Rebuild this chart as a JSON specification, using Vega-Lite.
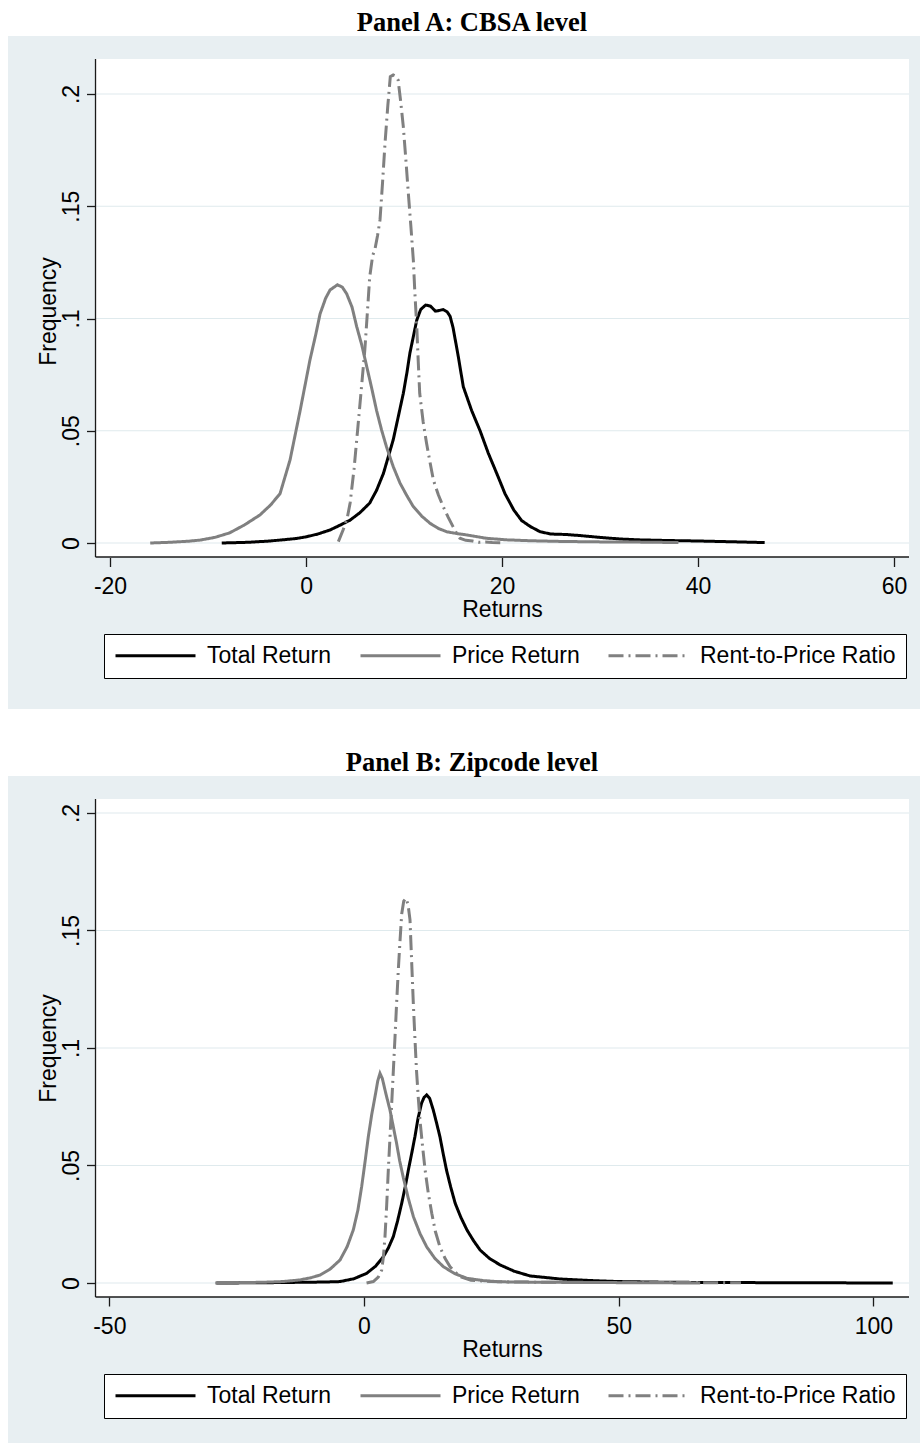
{
  "$schema": "https://vega.github.io/schema/vega-lite/v6.json",
  "background": "#ffffff",
  "padding": {"left": 8, "top": 9, "right": 0, "bottom": 0},
  "config": {
    "view": {"stroke": null, "fill": "#e8eff2"},
    "font": "Liberation Sans"
  },
  "datasets": {
    "one": [{}],
    "grid": [{"f": 0}, {"f": 0.05}, {"f": 0.1}, {"f": 0.15}, {"f": 0.2}],
    "a": [
      {"series": "Total Return", "r": -8.6, "f": 0.0},
      {"series": "Total Return", "r": -6, "f": 0.0003},
      {"series": "Total Return", "r": -4, "f": 0.0008},
      {"series": "Total Return", "r": -2.65, "f": 0.0013},
      {"series": "Total Return", "r": -1, "f": 0.002},
      {"series": "Total Return", "r": 0.07, "f": 0.0028},
      {"series": "Total Return", "r": 1.2, "f": 0.004},
      {"series": "Total Return", "r": 2.45, "f": 0.0058},
      {"series": "Total Return", "r": 3.5, "f": 0.008},
      {"series": "Total Return", "r": 4.5, "f": 0.0102},
      {"series": "Total Return", "r": 5.5, "f": 0.0135},
      {"series": "Total Return", "r": 6.5, "f": 0.0178},
      {"series": "Total Return", "r": 7.2, "f": 0.0235},
      {"series": "Total Return", "r": 7.9, "f": 0.031},
      {"series": "Total Return", "r": 8.4, "f": 0.0385},
      {"series": "Total Return", "r": 8.9, "f": 0.046},
      {"series": "Total Return", "r": 9.4, "f": 0.056},
      {"series": "Total Return", "r": 9.93, "f": 0.0667},
      {"series": "Total Return", "r": 10.3, "f": 0.076},
      {"series": "Total Return", "r": 10.6, "f": 0.0846},
      {"series": "Total Return", "r": 11.0, "f": 0.093},
      {"series": "Total Return", "r": 11.3, "f": 0.0993},
      {"series": "Total Return", "r": 11.7, "f": 0.104},
      {"series": "Total Return", "r": 12.2, "f": 0.106},
      {"series": "Total Return", "r": 12.7, "f": 0.1055},
      {"series": "Total Return", "r": 13.2, "f": 0.1033},
      {"series": "Total Return", "r": 13.5, "f": 0.1035},
      {"series": "Total Return", "r": 14.0, "f": 0.104},
      {"series": "Total Return", "r": 14.4, "f": 0.103},
      {"series": "Total Return", "r": 14.7, "f": 0.101},
      {"series": "Total Return", "r": 15.0, "f": 0.096},
      {"series": "Total Return", "r": 15.5, "f": 0.084},
      {"series": "Total Return", "r": 16.05, "f": 0.0696},
      {"series": "Total Return", "r": 16.9, "f": 0.059},
      {"series": "Total Return", "r": 17.76, "f": 0.05},
      {"series": "Total Return", "r": 18.6, "f": 0.04},
      {"series": "Total Return", "r": 19.46, "f": 0.031},
      {"series": "Total Return", "r": 20.3, "f": 0.022},
      {"series": "Total Return", "r": 21.2, "f": 0.0147},
      {"series": "Total Return", "r": 22.0, "f": 0.01},
      {"series": "Total Return", "r": 22.9, "f": 0.0073},
      {"series": "Total Return", "r": 23.9, "f": 0.005},
      {"series": "Total Return", "r": 25, "f": 0.004},
      {"series": "Total Return", "r": 26.5, "f": 0.0038},
      {"series": "Total Return", "r": 28, "f": 0.0033},
      {"series": "Total Return", "r": 30, "f": 0.0025},
      {"series": "Total Return", "r": 32, "f": 0.0018},
      {"series": "Total Return", "r": 34, "f": 0.0014},
      {"series": "Total Return", "r": 37, "f": 0.0011},
      {"series": "Total Return", "r": 40, "f": 0.0009},
      {"series": "Total Return", "r": 43, "f": 0.0006},
      {"series": "Total Return", "r": 46.8, "f": 0.0002},
      {"series": "Price Return", "r": -15.9, "f": 0.0},
      {"series": "Price Return", "r": -14, "f": 0.0003},
      {"series": "Price Return", "r": -12, "f": 0.0008},
      {"series": "Price Return", "r": -10.8, "f": 0.0013},
      {"series": "Price Return", "r": -9.3, "f": 0.0025},
      {"series": "Price Return", "r": -7.8, "f": 0.0045},
      {"series": "Price Return", "r": -6.3, "f": 0.008},
      {"series": "Price Return", "r": -4.7, "f": 0.0125},
      {"series": "Price Return", "r": -3.6, "f": 0.017},
      {"series": "Price Return", "r": -2.65, "f": 0.022},
      {"series": "Price Return", "r": -1.63, "f": 0.037},
      {"series": "Price Return", "r": -0.6, "f": 0.059},
      {"series": "Price Return", "r": 0.4, "f": 0.0815},
      {"series": "Price Return", "r": 1.0, "f": 0.093},
      {"series": "Price Return", "r": 1.43, "f": 0.102},
      {"series": "Price Return", "r": 2.0, "f": 0.109},
      {"series": "Price Return", "r": 2.45, "f": 0.1127},
      {"series": "Price Return", "r": 3.2, "f": 0.115},
      {"series": "Price Return", "r": 3.7, "f": 0.114},
      {"series": "Price Return", "r": 4.15, "f": 0.111},
      {"series": "Price Return", "r": 4.7, "f": 0.105},
      {"series": "Price Return", "r": 5.17, "f": 0.0964},
      {"series": "Price Return", "r": 5.7, "f": 0.088},
      {"series": "Price Return", "r": 6.2, "f": 0.0785},
      {"series": "Price Return", "r": 6.7, "f": 0.069},
      {"series": "Price Return", "r": 7.2, "f": 0.059},
      {"series": "Price Return", "r": 7.7, "f": 0.0505},
      {"series": "Price Return", "r": 8.2, "f": 0.043},
      {"series": "Price Return", "r": 8.9, "f": 0.034},
      {"series": "Price Return", "r": 9.6, "f": 0.0266},
      {"series": "Price Return", "r": 10.3, "f": 0.021},
      {"series": "Price Return", "r": 10.95, "f": 0.0162},
      {"series": "Price Return", "r": 11.8, "f": 0.012},
      {"series": "Price Return", "r": 12.65, "f": 0.0088},
      {"series": "Price Return", "r": 13.5, "f": 0.0065},
      {"series": "Price Return", "r": 14.36, "f": 0.005},
      {"series": "Price Return", "r": 15.4, "f": 0.0042},
      {"series": "Price Return", "r": 16.4, "f": 0.0036},
      {"series": "Price Return", "r": 18.4, "f": 0.0021},
      {"series": "Price Return", "r": 20.5, "f": 0.0014},
      {"series": "Price Return", "r": 23, "f": 0.001},
      {"series": "Price Return", "r": 26, "f": 0.0007},
      {"series": "Price Return", "r": 30, "f": 0.0005},
      {"series": "Price Return", "r": 34, "f": 0.0004},
      {"series": "Price Return", "r": 38, "f": 0.0002},
      {"series": "Rent-to-Price Ratio", "r": 3.3, "f": 0.0006},
      {"series": "Rent-to-Price Ratio", "r": 3.8, "f": 0.006},
      {"series": "Rent-to-Price Ratio", "r": 4.2, "f": 0.011},
      {"series": "Rent-to-Price Ratio", "r": 4.5, "f": 0.0178},
      {"series": "Rent-to-Price Ratio", "r": 4.9, "f": 0.033},
      {"series": "Rent-to-Price Ratio", "r": 5.3, "f": 0.052},
      {"series": "Rent-to-Price Ratio", "r": 5.65, "f": 0.069},
      {"series": "Rent-to-Price Ratio", "r": 6.0, "f": 0.086},
      {"series": "Rent-to-Price Ratio", "r": 6.25, "f": 0.102},
      {"series": "Rent-to-Price Ratio", "r": 6.5, "f": 0.1186},
      {"series": "Rent-to-Price Ratio", "r": 6.8, "f": 0.128},
      {"series": "Rent-to-Price Ratio", "r": 7.04, "f": 0.131},
      {"series": "Rent-to-Price Ratio", "r": 7.3, "f": 0.137},
      {"series": "Rent-to-Price Ratio", "r": 7.55, "f": 0.1439},
      {"series": "Rent-to-Price Ratio", "r": 7.8, "f": 0.16},
      {"series": "Rent-to-Price Ratio", "r": 8.06, "f": 0.178},
      {"series": "Rent-to-Price Ratio", "r": 8.35, "f": 0.195},
      {"series": "Rent-to-Price Ratio", "r": 8.6, "f": 0.2077},
      {"series": "Rent-to-Price Ratio", "r": 8.9, "f": 0.2085},
      {"series": "Rent-to-Price Ratio", "r": 9.15, "f": 0.208},
      {"series": "Rent-to-Price Ratio", "r": 9.4, "f": 0.2062},
      {"series": "Rent-to-Price Ratio", "r": 9.65, "f": 0.197},
      {"series": "Rent-to-Price Ratio", "r": 9.93, "f": 0.1854},
      {"series": "Rent-to-Price Ratio", "r": 10.2, "f": 0.17},
      {"series": "Rent-to-Price Ratio", "r": 10.44, "f": 0.1558},
      {"series": "Rent-to-Price Ratio", "r": 10.7, "f": 0.141},
      {"series": "Rent-to-Price Ratio", "r": 10.95, "f": 0.126},
      {"series": "Rent-to-Price Ratio", "r": 11.1, "f": 0.112},
      {"series": "Rent-to-Price Ratio", "r": 11.3, "f": 0.0964},
      {"series": "Rent-to-Price Ratio", "r": 11.45, "f": 0.081},
      {"series": "Rent-to-Price Ratio", "r": 11.6, "f": 0.0667},
      {"series": "Rent-to-Price Ratio", "r": 11.95, "f": 0.054},
      {"series": "Rent-to-Price Ratio", "r": 12.3, "f": 0.0444},
      {"series": "Rent-to-Price Ratio", "r": 12.65, "f": 0.036},
      {"series": "Rent-to-Price Ratio", "r": 13.0, "f": 0.028},
      {"series": "Rent-to-Price Ratio", "r": 13.5, "f": 0.0215},
      {"series": "Rent-to-Price Ratio", "r": 14.0, "f": 0.0162},
      {"series": "Rent-to-Price Ratio", "r": 14.5, "f": 0.0115},
      {"series": "Rent-to-Price Ratio", "r": 15.0, "f": 0.0073},
      {"series": "Rent-to-Price Ratio", "r": 15.4, "f": 0.004},
      {"series": "Rent-to-Price Ratio", "r": 15.7, "f": 0.0021},
      {"series": "Rent-to-Price Ratio", "r": 16.3, "f": 0.0012},
      {"series": "Rent-to-Price Ratio", "r": 17, "f": 0.0009},
      {"series": "Rent-to-Price Ratio", "r": 17.6, "f": 0.0003},
      {"series": "Rent-to-Price Ratio", "r": 18.3, "f": 0.0005},
      {"series": "Rent-to-Price Ratio", "r": 19, "f": 0.0002},
      {"series": "Rent-to-Price Ratio", "r": 20.2, "f": 0.0001}
    ],
    "b": [
      {"series": "Total Return", "r": -29, "f": 0.0},
      {"series": "Total Return", "r": -20, "f": 0.0001},
      {"series": "Total Return", "r": -12, "f": 0.0003},
      {"series": "Total Return", "r": -8, "f": 0.0004},
      {"series": "Total Return", "r": -4.7, "f": 0.0006},
      {"series": "Total Return", "r": -2, "f": 0.0018},
      {"series": "Total Return", "r": 0.52, "f": 0.0041},
      {"series": "Total Return", "r": 2.3, "f": 0.0072},
      {"series": "Total Return", "r": 3.8, "f": 0.0112},
      {"series": "Total Return", "r": 4.8, "f": 0.015},
      {"series": "Total Return", "r": 5.75, "f": 0.0197},
      {"series": "Total Return", "r": 6.6, "f": 0.0265},
      {"series": "Total Return", "r": 7.4, "f": 0.0339},
      {"series": "Total Return", "r": 8.1, "f": 0.041},
      {"series": "Total Return", "r": 8.7, "f": 0.048},
      {"series": "Total Return", "r": 9.35, "f": 0.055},
      {"series": "Total Return", "r": 10.0, "f": 0.0623},
      {"series": "Total Return", "r": 10.6, "f": 0.07},
      {"series": "Total Return", "r": 11.3, "f": 0.0765},
      {"series": "Total Return", "r": 11.8, "f": 0.079},
      {"series": "Total Return", "r": 12.3, "f": 0.08},
      {"series": "Total Return", "r": 12.9, "f": 0.0785},
      {"series": "Total Return", "r": 13.6, "f": 0.0736},
      {"series": "Total Return", "r": 14.2, "f": 0.0685},
      {"series": "Total Return", "r": 14.9, "f": 0.0623},
      {"series": "Total Return", "r": 15.5, "f": 0.0555},
      {"series": "Total Return", "r": 16.2, "f": 0.048},
      {"series": "Total Return", "r": 17.0, "f": 0.041},
      {"series": "Total Return", "r": 17.9, "f": 0.0339},
      {"series": "Total Return", "r": 19.0, "f": 0.028},
      {"series": "Total Return", "r": 20.2, "f": 0.0226},
      {"series": "Total Return", "r": 21.5, "f": 0.018},
      {"series": "Total Return", "r": 22.8, "f": 0.014},
      {"series": "Total Return", "r": 24.6, "f": 0.0105},
      {"series": "Total Return", "r": 26.7, "f": 0.0077},
      {"series": "Total Return", "r": 29.5, "f": 0.005},
      {"series": "Total Return", "r": 32.6, "f": 0.003},
      {"series": "Total Return", "r": 38.5, "f": 0.0017},
      {"series": "Total Return", "r": 45, "f": 0.001},
      {"series": "Total Return", "r": 50, "f": 0.0006},
      {"series": "Total Return", "r": 60, "f": 0.0003},
      {"series": "Total Return", "r": 70, "f": 0.0002},
      {"series": "Total Return", "r": 85, "f": 0.0001},
      {"series": "Total Return", "r": 103.8, "f": 0.0},
      {"series": "Price Return", "r": -29.2, "f": 0.0},
      {"series": "Price Return", "r": -20, "f": 0.0003},
      {"series": "Price Return", "r": -16, "f": 0.0006},
      {"series": "Price Return", "r": -12.6, "f": 0.0013},
      {"series": "Price Return", "r": -10.5, "f": 0.0022},
      {"series": "Price Return", "r": -8.6, "f": 0.0034},
      {"series": "Price Return", "r": -6.6, "f": 0.006},
      {"series": "Price Return", "r": -4.7, "f": 0.0098},
      {"series": "Price Return", "r": -3.3, "f": 0.0155},
      {"series": "Price Return", "r": -2.1, "f": 0.0226},
      {"series": "Price Return", "r": -1.2, "f": 0.031},
      {"series": "Price Return", "r": -0.46, "f": 0.041},
      {"series": "Price Return", "r": 0.2, "f": 0.0515},
      {"series": "Price Return", "r": 0.85, "f": 0.0623},
      {"series": "Price Return", "r": 1.5, "f": 0.0715},
      {"series": "Price Return", "r": 2.16, "f": 0.0793},
      {"series": "Price Return", "r": 2.7, "f": 0.086},
      {"series": "Price Return", "r": 3.14, "f": 0.0892},
      {"series": "Price Return", "r": 3.6, "f": 0.087},
      {"series": "Price Return", "r": 4.3, "f": 0.0805},
      {"series": "Price Return", "r": 5.1, "f": 0.0736},
      {"series": "Price Return", "r": 5.75, "f": 0.0665},
      {"series": "Price Return", "r": 6.4, "f": 0.0594},
      {"series": "Price Return", "r": 7.0, "f": 0.052},
      {"series": "Price Return", "r": 7.7, "f": 0.045},
      {"series": "Price Return", "r": 8.7, "f": 0.036},
      {"series": "Price Return", "r": 9.7, "f": 0.0282},
      {"series": "Price Return", "r": 11.0, "f": 0.021},
      {"series": "Price Return", "r": 12.3, "f": 0.0154},
      {"series": "Price Return", "r": 13.9, "f": 0.0105},
      {"series": "Price Return", "r": 15.6, "f": 0.0069},
      {"series": "Price Return", "r": 17.8, "f": 0.004},
      {"series": "Price Return", "r": 20.2, "f": 0.002},
      {"series": "Price Return", "r": 23.5, "f": 0.001},
      {"series": "Price Return", "r": 26.7, "f": 0.0005},
      {"series": "Price Return", "r": 35, "f": 0.0003},
      {"series": "Price Return", "r": 45, "f": 0.0002},
      {"series": "Price Return", "r": 55, "f": 0.0001},
      {"series": "Price Return", "r": 66, "f": 0.0},
      {"series": "Rent-to-Price Ratio", "r": 0.5, "f": 0.0},
      {"series": "Rent-to-Price Ratio", "r": 1.83, "f": 0.0006},
      {"series": "Rent-to-Price Ratio", "r": 2.8, "f": 0.0025},
      {"series": "Rent-to-Price Ratio", "r": 3.47, "f": 0.0055},
      {"series": "Rent-to-Price Ratio", "r": 3.8, "f": 0.011},
      {"series": "Rent-to-Price Ratio", "r": 4.12, "f": 0.0197},
      {"series": "Rent-to-Price Ratio", "r": 4.45, "f": 0.033},
      {"series": "Rent-to-Price Ratio", "r": 4.77, "f": 0.048},
      {"series": "Rent-to-Price Ratio", "r": 5.1, "f": 0.062},
      {"series": "Rent-to-Price Ratio", "r": 5.44, "f": 0.0765},
      {"series": "Rent-to-Price Ratio", "r": 5.75, "f": 0.09},
      {"series": "Rent-to-Price Ratio", "r": 6.09, "f": 0.1048},
      {"series": "Rent-to-Price Ratio", "r": 6.4, "f": 0.119},
      {"series": "Rent-to-Price Ratio", "r": 6.73, "f": 0.133},
      {"series": "Rent-to-Price Ratio", "r": 7.05, "f": 0.145},
      {"series": "Rent-to-Price Ratio", "r": 7.4, "f": 0.157},
      {"series": "Rent-to-Price Ratio", "r": 7.8, "f": 0.1625},
      {"series": "Rent-to-Price Ratio", "r": 8.24, "f": 0.1637},
      {"series": "Rent-to-Price Ratio", "r": 8.65, "f": 0.161},
      {"series": "Rent-to-Price Ratio", "r": 9.03, "f": 0.1545},
      {"series": "Rent-to-Price Ratio", "r": 9.35, "f": 0.137},
      {"series": "Rent-to-Price Ratio", "r": 9.68, "f": 0.119},
      {"series": "Rent-to-Price Ratio", "r": 10.0, "f": 0.104},
      {"series": "Rent-to-Price Ratio", "r": 10.3, "f": 0.0906},
      {"series": "Rent-to-Price Ratio", "r": 10.65, "f": 0.079},
      {"series": "Rent-to-Price Ratio", "r": 11.0, "f": 0.069},
      {"series": "Rent-to-Price Ratio", "r": 11.5, "f": 0.058},
      {"series": "Rent-to-Price Ratio", "r": 12.0, "f": 0.048},
      {"series": "Rent-to-Price Ratio", "r": 12.6, "f": 0.0385},
      {"series": "Rent-to-Price Ratio", "r": 13.3, "f": 0.0297},
      {"series": "Rent-to-Price Ratio", "r": 14.0, "f": 0.022},
      {"series": "Rent-to-Price Ratio", "r": 14.9, "f": 0.0154},
      {"series": "Rent-to-Price Ratio", "r": 15.9, "f": 0.0105},
      {"series": "Rent-to-Price Ratio", "r": 16.9, "f": 0.0069},
      {"series": "Rent-to-Price Ratio", "r": 18.8, "f": 0.0027},
      {"series": "Rent-to-Price Ratio", "r": 21, "f": 0.0012},
      {"series": "Rent-to-Price Ratio", "r": 25, "f": 0.0006},
      {"series": "Rent-to-Price Ratio", "r": 30, "f": 0.0004},
      {"series": "Rent-to-Price Ratio", "r": 40, "f": 0.0003},
      {"series": "Rent-to-Price Ratio", "r": 50, "f": 0.0002},
      {"series": "Rent-to-Price Ratio", "r": 60, "f": 0.0002},
      {"series": "Rent-to-Price Ratio", "r": 74, "f": 0.0001}
    ]
  },
  "resolve": {"scale": {"color": "independent", "strokeDash": "independent"}},
  "spacing": 40,
  "vconcat": [
    {
      "width": 912,
      "height": 673,
      "title": {"text": "Panel A: CBSA level", "font": "Liberation Serif", "fontSize": 26.5, "fontWeight": "bold", "color": "#000000", "anchor": "middle", "frame": "group", "dx": 8, "baseline": "alphabetic", "offset": -21},
      "layer": [
        {
          "data": {"name": "one"},
          "mark": {"type": "rect", "fill": "#ffffff"},
          "encoding": {
            "x": {"datum": -21.48, "type": "quantitative", "scale": {"domain": [-30.41, 62.65], "nice": false, "zero": false}},
            "x2": {"datum": 61.53},
            "y": {"datum": -0.00624, "type": "quantitative", "scale": {"domain": [-0.07394, 0.22584], "nice": false, "zero": false}},
            "y2": {"datum": 0.21559}
          }
        },
        {
          "data": {"name": "grid"},
          "mark": {"type": "rule", "stroke": "#dfeaed", "strokeWidth": 1.2},
          "encoding": {
            "y": {"field": "f", "type": "quantitative", "scale": {"domain": [-0.07394, 0.22584], "nice": false, "zero": false}},
            "x": {"datum": -21.48, "type": "quantitative", "scale": {"domain": [-30.41, 62.65], "nice": false, "zero": false}},
            "x2": {"datum": 61.53}
          }
        },
        {
          "data": {"name": "a"},
          "mark": {"type": "line", "strokeWidth": 3},
          "encoding": {
            "x": {
              "field": "r", "type": "quantitative",
              "scale": {"domain": [-30.41, 62.65], "nice": false, "zero": false},
              "axis": {"values": [-20, 0, 20, 40, 60], "labelExpr": "datum.value + ''", "offset": -151.5, "zindex": 1, "domain": false, "grid": false, "tickSize": 9, "tickColor": "#1a1a1a", "tickWidth": 1.3, "labelFont": "Liberation Sans", "labelFontSize": 23, "labelColor": "#000000", "labelBaseline": "alphabetic", "labelPadding": 27, "labelFlush": false, "labelOverlap": false, "title": "Returns", "titleFont": "Liberation Sans", "titleFontSize": 23, "titleFontWeight": "normal", "titleColor": "#000000", "titleX": 494, "titleY": 59, "titleAlign": "center", "titleBaseline": "alphabetic"}
            },
            "y": {
              "field": "f", "type": "quantitative",
              "scale": {"domain": [-0.07394, 0.22584], "nice": false, "zero": false},
              "axis": {"values": [0, 0.05, 0.1, 0.15, 0.2], "labelExpr": "datum.value == 0 ? '0' : replace(datum.value + '', '0.', '.')", "offset": -87.5, "zindex": 1, "domain": false, "grid": false, "tickSize": 9, "tickColor": "#1a1a1a", "tickWidth": 1.3, "labelFont": "Liberation Sans", "labelFontSize": 23, "labelColor": "#000000", "labelAngle": -90, "labelAlign": "center", "labelBaseline": "alphabetic", "labelPadding": 8.5, "labelFlush": false, "labelOverlap": false, "title": "Frequency", "titleFont": "Liberation Sans", "titleFontSize": 23, "titleFontWeight": "normal", "titleColor": "#000000", "titleAngle": -90, "titleX": -40.5, "titleY": 275, "titleAlign": "center", "titleBaseline": "alphabetic"}
            },
            "color": {
              "field": "series", "type": "nominal",
              "scale": {"domain": ["Total Return", "Price Return", "Rent-to-Price Ratio"], "range": ["#000000", "#808080", "#808080"]},
              "legend": {"orient": "none", "legendX": 96, "legendY": 598, "direction": "horizontal", "title": null, "symbolType": "M-4,0H4", "symbolSize": 400, "symbolStrokeWidth": 3, "symbolOffset": 30, "labelOffset": 40, "labelFont": "Liberation Sans", "labelFontSize": 23, "labelColor": "#000000", "labelLimit": 400, "columnPadding": 22, "padding": 10, "strokeColor": "#000000", "fillColor": "#ffffff"}
            },
            "strokeDash": {
              "field": "series", "type": "nominal",
              "scale": {"domain": ["Total Return", "Price Return", "Rent-to-Price Ratio"], "range": [[1, 0], [1, 0], [15, 5, 2, 5]]},
              "legend": {"orient": "none", "legendX": 96, "legendY": 598, "direction": "horizontal", "title": null, "symbolType": "M-4,0H4", "symbolSize": 400, "symbolStrokeWidth": 3, "symbolOffset": 30, "labelOffset": 40, "labelFont": "Liberation Sans", "labelFontSize": 23, "labelColor": "#000000", "labelLimit": 400, "columnPadding": 22, "padding": 10, "strokeColor": "#000000", "fillColor": "#ffffff"}
            }
          }
        },
        {
          "data": {"name": "one"},
          "mark": {"type": "rule", "stroke": "#1a1a1a", "strokeWidth": 1.3},
          "encoding": {
            "x": {"datum": -21.48, "type": "quantitative", "scale": {"domain": [-30.41, 62.65], "nice": false, "zero": false}},
            "y": {"datum": -0.00624, "type": "quantitative", "scale": {"domain": [-0.07394, 0.22584], "nice": false, "zero": false}},
            "y2": {"datum": 0.21559}
          }
        },
        {
          "data": {"name": "one"},
          "mark": {"type": "rule", "stroke": "#1a1a1a", "strokeWidth": 1.3},
          "encoding": {
            "x": {"datum": -21.48, "type": "quantitative", "scale": {"domain": [-30.41, 62.65], "nice": false, "zero": false}},
            "x2": {"datum": 61.53},
            "y": {"datum": -0.00624, "type": "quantitative", "scale": {"domain": [-0.07394, 0.22584], "nice": false, "zero": false}}
          }
        }
      ]
    },
    {
      "width": 912,
      "height": 667,
      "title": {"text": "Panel B: Zipcode level", "font": "Liberation Serif", "fontSize": 26.5, "fontWeight": "bold", "color": "#000000", "anchor": "middle", "frame": "group", "dx": 8, "baseline": "alphabetic", "offset": -21},
      "layer": [
        {
          "data": {"name": "one"},
          "mark": {"type": "rect", "fill": "#ffffff"},
          "encoding": {
            "x": {"datum": -52.71, "type": "quantitative", "scale": {"domain": [-69.89, 109.15], "nice": false, "zero": false}},
            "x2": {"datum": 106.99},
            "y": {"datum": -0.00596, "type": "quantitative", "scale": {"domain": [-0.06809, 0.21574], "nice": false, "zero": false}},
            "y2": {"datum": 0.20596}
          }
        },
        {
          "data": {"name": "grid"},
          "mark": {"type": "rule", "stroke": "#dfeaed", "strokeWidth": 1.2},
          "encoding": {
            "y": {"field": "f", "type": "quantitative", "scale": {"domain": [-0.06809, 0.21574], "nice": false, "zero": false}},
            "x": {"datum": -52.71, "type": "quantitative", "scale": {"domain": [-69.89, 109.15], "nice": false, "zero": false}},
            "x2": {"datum": 106.99}
          }
        },
        {
          "data": {"name": "b"},
          "mark": {"type": "line", "strokeWidth": 3},
          "encoding": {
            "x": {
              "field": "r", "type": "quantitative",
              "scale": {"domain": [-69.89, 109.15], "nice": false, "zero": false},
              "axis": {"values": [-50, 0, 50, 100], "labelExpr": "datum.value + ''", "offset": -146, "zindex": 1, "domain": false, "grid": false, "tickSize": 9, "tickColor": "#1a1a1a", "tickWidth": 1.3, "labelFont": "Liberation Sans", "labelFontSize": 23, "labelColor": "#000000", "labelBaseline": "alphabetic", "labelPadding": 27, "labelFlush": false, "labelOverlap": false, "title": "Returns", "titleFont": "Liberation Sans", "titleFontSize": 23, "titleFontWeight": "normal", "titleColor": "#000000", "titleX": 494, "titleY": 59, "titleAlign": "center", "titleBaseline": "alphabetic"}
            },
            "y": {
              "field": "f", "type": "quantitative",
              "scale": {"domain": [-0.06809, 0.21574], "nice": false, "zero": false},
              "axis": {"values": [0, 0.05, 0.1, 0.15, 0.2], "labelExpr": "datum.value == 0 ? '0' : replace(datum.value + '', '0.', '.')", "offset": -87.5, "zindex": 1, "domain": false, "grid": false, "tickSize": 9, "tickColor": "#1a1a1a", "tickWidth": 1.3, "labelFont": "Liberation Sans", "labelFontSize": 23, "labelColor": "#000000", "labelAngle": -90, "labelAlign": "center", "labelBaseline": "alphabetic", "labelPadding": 8.5, "labelFlush": false, "labelOverlap": false, "title": "Frequency", "titleFont": "Liberation Sans", "titleFontSize": 23, "titleFontWeight": "normal", "titleColor": "#000000", "titleAngle": -90, "titleX": -40.5, "titleY": 272, "titleAlign": "center", "titleBaseline": "alphabetic"}
            },
            "color": {
              "field": "series", "type": "nominal",
              "scale": {"domain": ["Total Return", "Price Return", "Rent-to-Price Ratio"], "range": ["#000000", "#808080", "#808080"]},
              "legend": {"orient": "none", "legendX": 96, "legendY": 598, "direction": "horizontal", "title": null, "symbolType": "M-4,0H4", "symbolSize": 400, "symbolStrokeWidth": 3, "symbolOffset": 30, "labelOffset": 40, "labelFont": "Liberation Sans", "labelFontSize": 23, "labelColor": "#000000", "labelLimit": 400, "columnPadding": 22, "padding": 10, "strokeColor": "#000000", "fillColor": "#ffffff"}
            },
            "strokeDash": {
              "field": "series", "type": "nominal",
              "scale": {"domain": ["Total Return", "Price Return", "Rent-to-Price Ratio"], "range": [[1, 0], [1, 0], [15, 5, 2, 5]]},
              "legend": {"orient": "none", "legendX": 96, "legendY": 598, "direction": "horizontal", "title": null, "symbolType": "M-4,0H4", "symbolSize": 400, "symbolStrokeWidth": 3, "symbolOffset": 30, "labelOffset": 40, "labelFont": "Liberation Sans", "labelFontSize": 23, "labelColor": "#000000", "labelLimit": 400, "columnPadding": 22, "padding": 10, "strokeColor": "#000000", "fillColor": "#ffffff"}
            }
          }
        },
        {
          "data": {"name": "one"},
          "mark": {"type": "rule", "stroke": "#1a1a1a", "strokeWidth": 1.3},
          "encoding": {
            "x": {"datum": -52.71, "type": "quantitative", "scale": {"domain": [-69.89, 109.15], "nice": false, "zero": false}},
            "y": {"datum": -0.00596, "type": "quantitative", "scale": {"domain": [-0.06809, 0.21574], "nice": false, "zero": false}},
            "y2": {"datum": 0.20596}
          }
        },
        {
          "data": {"name": "one"},
          "mark": {"type": "rule", "stroke": "#1a1a1a", "strokeWidth": 1.3},
          "encoding": {
            "x": {"datum": -52.71, "type": "quantitative", "scale": {"domain": [-69.89, 109.15], "nice": false, "zero": false}},
            "x2": {"datum": 106.99},
            "y": {"datum": -0.00596, "type": "quantitative", "scale": {"domain": [-0.06809, 0.21574], "nice": false, "zero": false}}
          }
        }
      ]
    }
  ]
}
